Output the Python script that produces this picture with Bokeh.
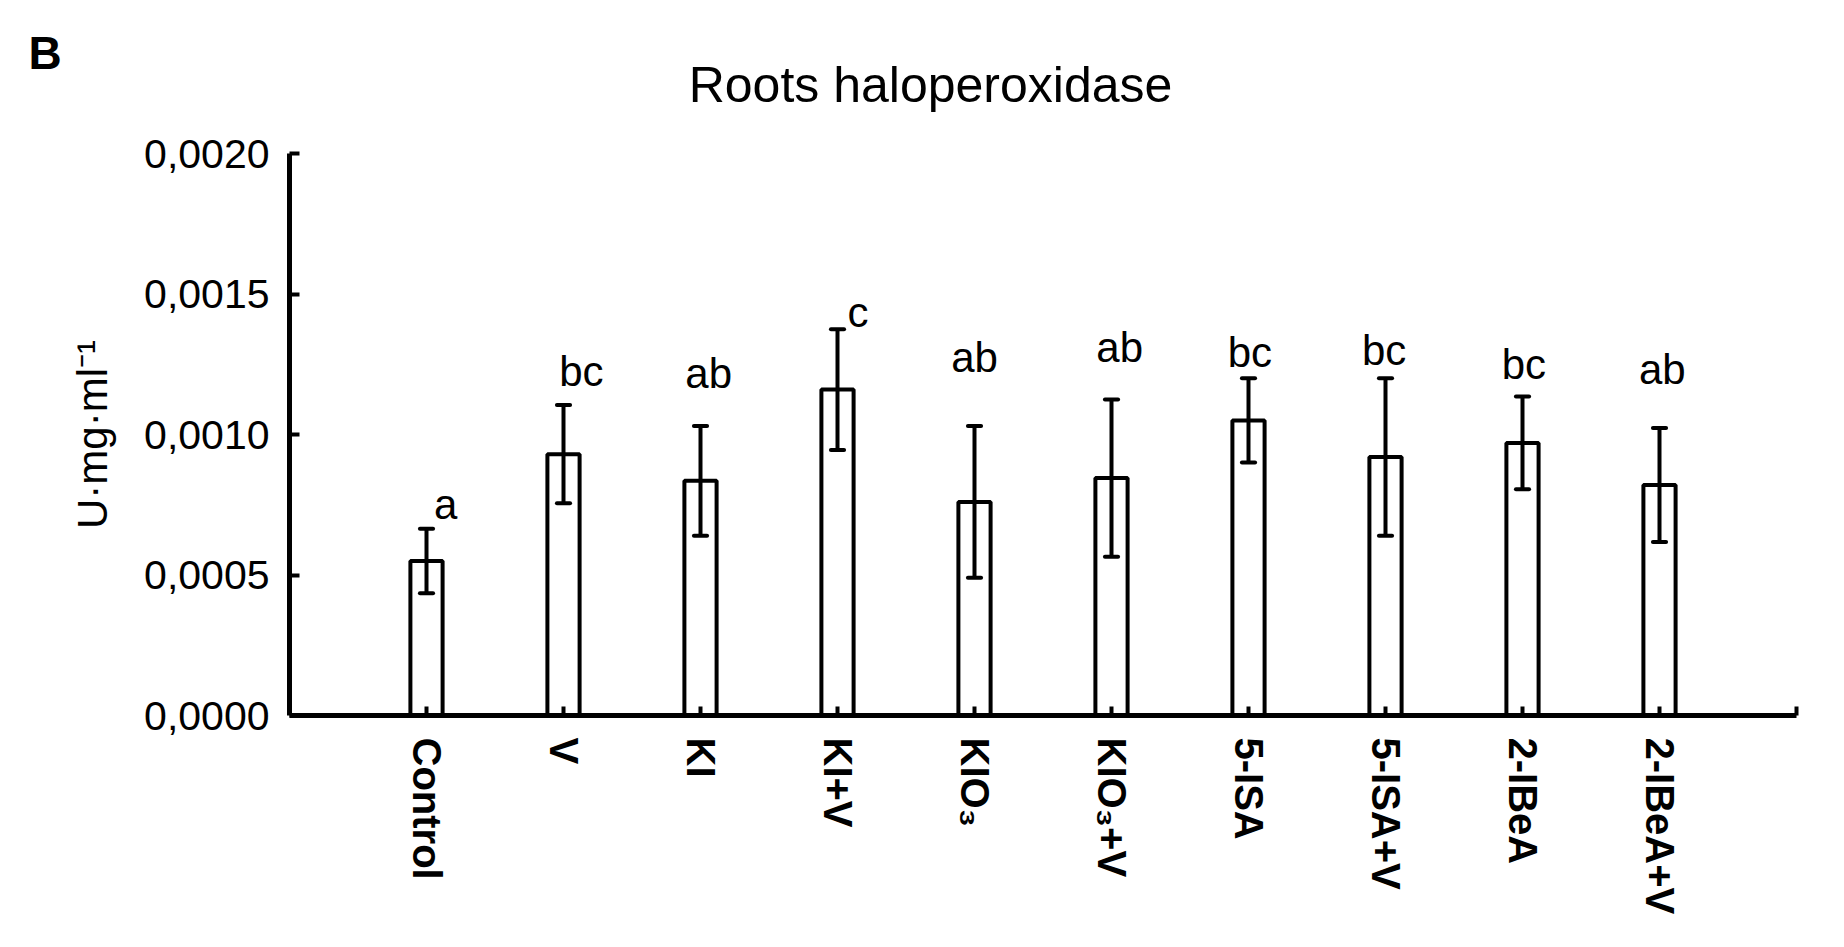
from bokeh.plotting import figure
from bokeh.models import Range1d, FixedTicker
from bokeh.layouts import column
from bokeh.embed import file_html
from bokeh.resources import INLINE
from bokeh.core.properties import value

# ---- data ----
categories = ["Control", "V", "KI", "KI+V", "KIO\u2083", "KIO\u2083+V",
              "5-ISA", "5-ISA+V", "2-IBeA", "2-IBeA+V"]
means = [0.00055, 0.00093, 0.000835, 0.00116, 0.00076, 0.000845,
         0.00105, 0.00092, 0.00097, 0.00082]
errors = [0.000115, 0.000175, 0.000195, 0.000215, 0.00027, 0.00028,
          0.00015, 0.00028, 0.000165, 0.000203]
letters = ["a", "bc", "ab", "c", "ab", "ab", "bc", "bc", "bc", "ab"]
letter_y = [0.000698, 0.001170, 0.001162, 0.001381, 0.001221, 0.001257,
            0.001239, 0.001245, 0.001194, 0.001178]
letter_dx = [0.14, 0.13, 0.06, 0.15, 0.0, 0.06, 0.01, -0.01, 0.01, 0.02]
y_ticks = [0.0, 0.0005, 0.001, 0.0015, 0.002]
y_tick_labels = ["0,0000", "0,0005", "0,0010", "0,0015", "0,0020"]
title_text = "Roots haloperoxidase"
panel_letter = "B"
y_label = "U\u00b7mg\u00b7ml\u207b\u00b9"

FONT = "Liberation Sans"
W = 1836
HEAD_H = 130

# ---- header (panel letter + title) ----
head = figure(width=W, height=HEAD_H, output_backend="svg", toolbar_location=None,
              x_range=Range1d(0, W), y_range=Range1d(HEAD_H, 0),
              x_axis_type=None, y_axis_type=None, min_border=0)
head.frame_align = False
head.outline_line_color = None
head.xgrid.visible = False
head.ygrid.visible = False
head.text(x=[930], y=[101], text=[title_text], text_font=value(FONT),
          text_font_size="50px", text_align="center", text_baseline="alphabetic",
          text_color="black", y_offset=-17)
head.text(x=[28], y=[68], text=[panel_letter], text_font=value(FONT),
          text_font_size="46px", text_font_style="bold", text_align="left",
          text_baseline="alphabetic", text_color="black", y_offset=-16)

# ---- main chart ----
xs = list(range(len(categories)))
lo = [m - e for m, e in zip(means, errors)]
hi = [m + e for m, e in zip(means, errors)]
cap = 0.048

p = figure(width=W, height=939 - HEAD_H, output_backend="svg", toolbar_location=None,
           x_range=Range1d(-1, 10), y_range=Range1d(0, 0.002),
           min_border_left=289, min_border_right=40, min_border_top=153 - HEAD_H,
           min_border_bottom=224)
p.frame_align = False
p.outline_line_color = None
p.xgrid.visible = False
p.ygrid.visible = False
p.background_fill_color = "white"
p.border_fill_color = "white"

p.vbar(x=xs, top=means, bottom=0, width=0.235, fill_color="white",
       line_color="black", line_width=4)
p.segment(x0=xs, y0=lo, x1=xs, y1=hi, line_color="black", line_width=4)
p.segment(x0=[x - cap for x in xs], y0=hi, x1=[x + cap for x in xs], y1=hi,
          line_color="black", line_width=4, line_cap="round")
p.segment(x0=[x - cap for x in xs], y0=lo, x1=[x + cap for x in xs], y1=lo,
          line_color="black", line_width=4, line_cap="round")

p.text(x=[x + d for x, d in zip(xs, letter_dx)], y=letter_y, text=letters,
       text_font=value(FONT), text_font_size="42px", text_align="center",
       text_baseline="alphabetic", text_color="black", y_offset=-15)

# x axis
xa = p.xaxis[0]
xa.ticker = FixedTicker(ticks=list(range(11)))
ov = {i: c for i, c in enumerate(categories)}
ov[10] = ""
xa.major_label_overrides = ov
xa.major_label_orientation = "vertical"
xa.major_label_text_font = FONT
xa.major_label_text_font_style = "bold"
xa.major_label_text_font_size = "40px"
xa.major_label_text_color = "black"
xa.major_label_standoff = 22
xa.major_tick_in = 9
xa.major_tick_out = 0
xa.major_tick_line_width = 4
xa.major_tick_line_color = "black"
xa.minor_tick_line_color = None
xa.axis_line_width = 5
xa.axis_line_color = "black"

# y axis
ya = p.yaxis[0]
ya.ticker = FixedTicker(ticks=y_ticks)
ya.major_label_overrides = dict(zip(y_ticks, y_tick_labels))
ya.major_label_text_font = FONT
ya.major_label_text_font_size = "41px"
ya.major_label_text_color = "black"
ya.major_label_standoff = 20
ya.major_tick_in = 10
ya.major_tick_out = 0
ya.major_tick_line_width = 4
ya.major_tick_line_color = "black"
ya.minor_tick_line_color = None
ya.axis_line_width = 5
ya.axis_line_color = "black"
ya.axis_label = y_label
ya.axis_label_text_font = FONT
ya.axis_label_text_font_style = "normal"
ya.axis_label_text_font_size = "42px"
ya.axis_label_text_color = "black"
ya.axis_label_standoff = 25

layout = column(head, p, spacing=0)
open("out.html", "w").write(file_html(layout, INLINE, title_text))
